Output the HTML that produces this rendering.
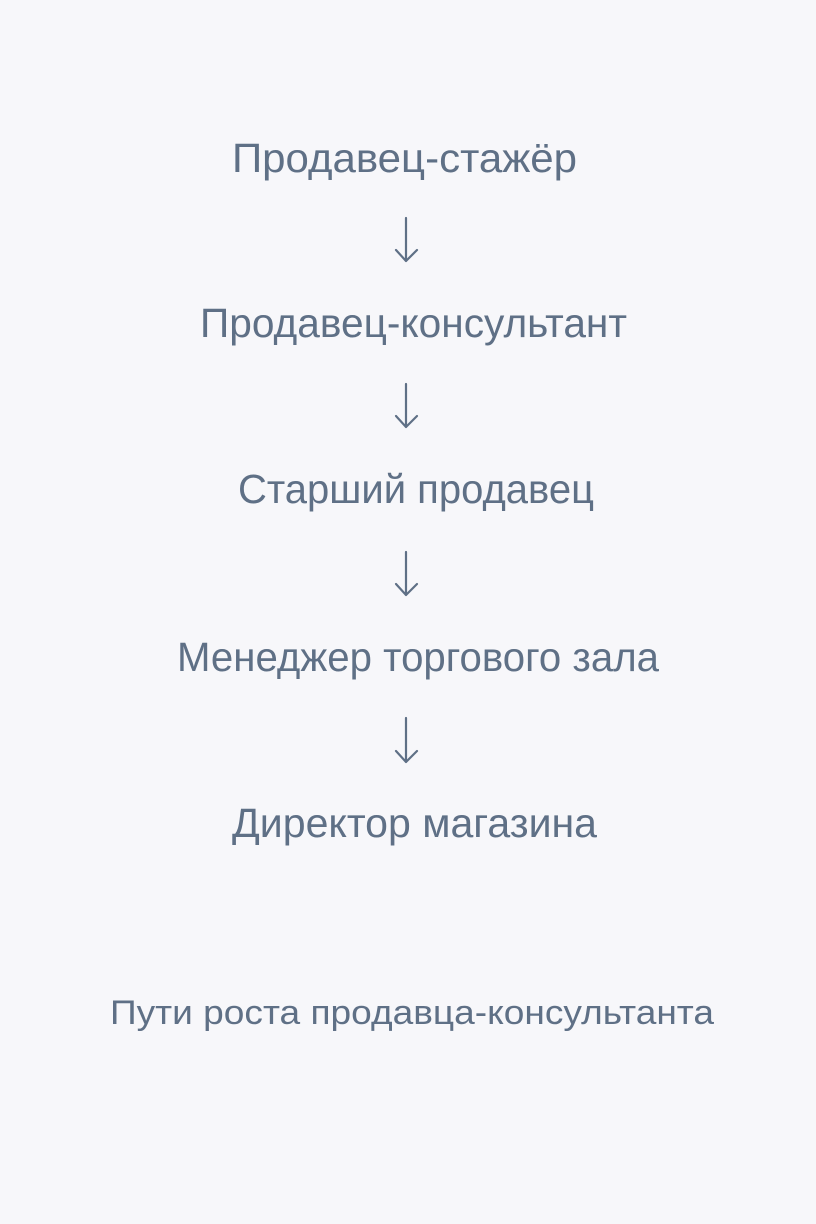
<!DOCTYPE html>
<html><head><meta charset="utf-8"><style>
html,body{margin:0;padding:0;background:#f7f7fa;}
svg{display:block}
text{font-family:"Liberation Sans",sans-serif;fill:#5f7086;}
</style></head><body>
<svg width="816" height="1224" viewBox="0 0 816 1224">
<rect width="816" height="1224" fill="#f7f7fa"/>
<text x="232" y="172" font-size="41" textLength="345" lengthAdjust="spacingAndGlyphs">Продавец-стажёр</text>
<text x="200" y="337" font-size="41" textLength="427" lengthAdjust="spacingAndGlyphs">Продавец-консультант</text>
<text x="238" y="503" font-size="41" textLength="356" lengthAdjust="spacingAndGlyphs">Старший продавец</text>
<text x="177" y="671" font-size="41" textLength="482" lengthAdjust="spacingAndGlyphs">Менеджер торгового зала</text>
<text x="232" y="837" font-size="41" textLength="365" lengthAdjust="spacingAndGlyphs">Директор магазина</text>
<text x="110" y="1024" font-size="34" textLength="604" lengthAdjust="spacingAndGlyphs">Пути роста продавца-консультанта</text>
<g stroke="#5f7086" stroke-width="2.2" fill="none" stroke-linecap="round" stroke-linejoin="round">
<path d="M406 218V261M396 250L406 261L417 250"/>
<path d="M406 384V427M396 416L406 427L417 416"/>
<path d="M406 552V595M396 584L406 595L417 584"/>
<path d="M406 718V762M396 751L406 762L417 751"/>
</g>
</svg>
</body></html>
